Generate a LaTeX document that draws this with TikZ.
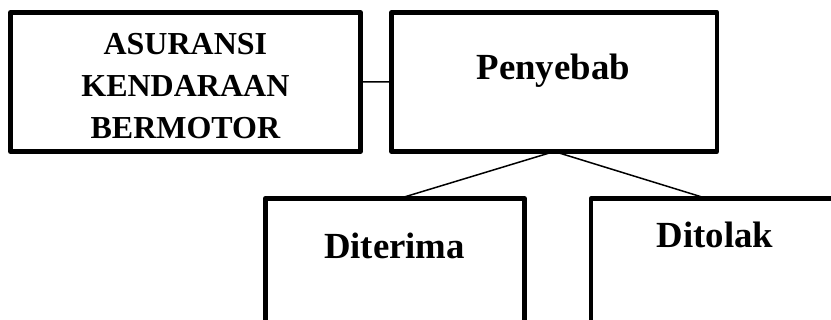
\documentclass[tikz,border=0pt]{standalone}
\usepackage{fontspec}
\setmainfont{Liberation Serif}
\begin{document}
\begin{tikzpicture}[x=1pt,y=-1pt,
  box/.style={draw=black, line width=4.5pt, line join=round, rectangle, inner sep=0pt, outer sep=0pt},
  lbl/.style={inner sep=0pt, anchor=base, text=black},
  big/.style={font=\fontsize{36.8}{44}\selectfont\bfseries},
  small/.style={font=\fontsize{32}{42}\selectfont\bfseries},
  link/.style={draw=black, line width=1.5pt}]
\useasboundingbox (0,0) rectangle (831,320);
\clip (0,0) rectangle (831,320);
% boxes
\node[box, minimum width=350pt, minimum height=139.4pt] (ins) at (185.4,82) {};
\node[box, minimum width=325.3pt, minimum height=139.2pt] (peny) at (554.3,81.9) {};
\node[box, minimum width=259.2pt, minimum height=140pt] (dit) at (394.9,268.3) {};
\node[box, minimum width=260pt, minimum height=140pt] (tol) at (720.8,268.5) {};
% labels (base anchor of the three-line label sits on its last line)
\node[lbl, small, align=center] (tins) at (185.4,138.3) {ASURANSI\\KENDARAAN\\BERMOTOR};
\node[lbl, big] (tpeny) at (553.3,80) {Penyebab};
\node[lbl, big] (tdit) at (394.5,258.3) {Diterima};
\node[lbl, big] (ttol) at (715,247.3) {Ditolak};
% connectors
\draw[link] (ins.east) -- (peny.west);
\draw[link] (peny.south) -- ([xshift=134.7pt]dit.north west);
\draw[link] (peny.south) -- ([xshift=116pt]tol.north west);
\end{tikzpicture}
\end{document}
